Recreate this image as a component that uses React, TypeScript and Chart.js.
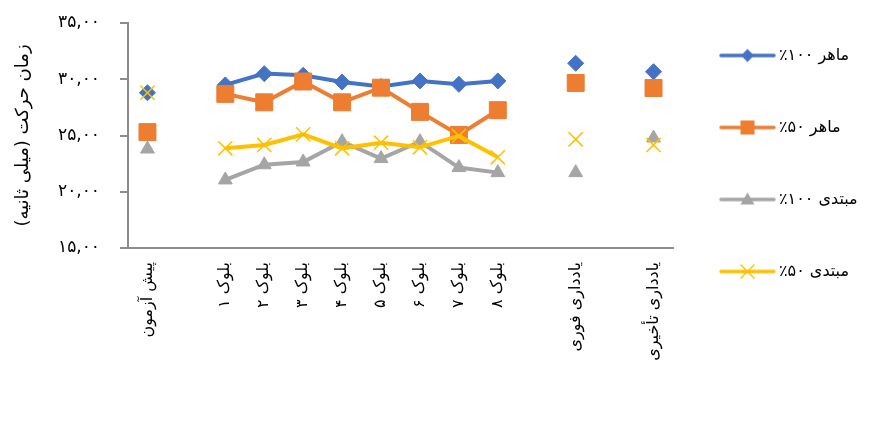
import React, { useEffect, useRef } from 'react';
import { Chart, registerables } from 'chart.js';

Chart.register(...registerables);

// ---------- data ----------
const categories = [
  'پیش آزمون', '',
  'بلوک ۱', 'بلوک ۲', 'بلوک ۳', 'بلوک ۴', 'بلوک ۵', 'بلوک ۶', 'بلوک ۷', 'بلوک ۸',
  '', 'یادداری فوری', '', 'یادداری تأخیری',
];

const seriesNames = ['ماهر ۱۰۰٪', 'ماهر ۵۰٪', 'مبتدی ۱۰۰٪', 'مبتدی ۵۰٪'];

const expert100 = [28.8, null, 29.5, 30.5, 30.35, 29.75, 29.35, 29.85, 29.55, 29.85, null, 31.42, null, 30.67];
const expert50 = [25.3, null, 28.7, 27.95, 29.8, 27.95, 29.25, 27.1, 25.05, 27.25, null, 29.67, null, 29.22];
const novice100 = [23.8, null, 21.05, 22.4, 22.65, 24.45, 22.95, 24.45, 22.15, 21.7, null, 21.7, null, 24.78];
const novice50 = [28.8, null, 23.86, 24.16, 25.1, 23.86, 24.36, 23.95, 24.96, 23.06, null, 24.66, null, 24.16];

const yTickValues = [15, 20, 25, 30, 35];
const yTickLabels = ['۱۵,۰۰', '۲۰,۰۰', '۲۵,۰۰', '۳۰,۰۰', '۳۵,۰۰'];
const yTitle = 'زمان حرکت (میلی ثانیه)';

// ---------- styling ----------
const FONT = '"DejaVu Sans", sans-serif';
const COLORS = ['#4472C4', '#ED7D31', '#A5A5A5', '#FFC000'];
const STYLES = ['rectRot', 'rect', 'triangle', 'crossRot'];
const RADII = [8, 12, 8, 10];
const AXIS = '#8c8c8c';

const W = 879;
const H = 437;
const PLOT_LEFT = 128;
const PLOT_RIGHT = 673;
const PLOT_TOP = 23;
const PLOT_BOTTOM = 248;
const LEG_FONT = 16;
const LEG_PAD = 72 - LEG_FONT;
const LEG_BOX = 42;
const LEG_FIRST_Y = 55.5;
const PAD_TOP = LEG_FIRST_Y - LEG_FONT / 2 - LEG_PAD;
const X_AXIS_H = H - PLOT_BOTTOM;
const TICK_MARK = 8;
const TICK_GAP = 20;

function makeIcon(color: string, style: string): HTMLCanvasElement {
  const c = document.createElement('canvas');
  c.width = 62;
  c.height = 20;
  const g = c.getContext('2d')!;
  g.strokeStyle = color;
  g.fillStyle = color;
  g.lineWidth = 3.5;
  g.lineCap = 'round';
  g.beginPath();
  g.moveTo(2, 10);
  g.lineTo(55, 10);
  g.stroke();
  const cx = 28.5;
  const cy = 10;
  g.beginPath();
  if (style === 'rectRot') {
    g.moveTo(cx, cy - 6.5);
    g.lineTo(cx + 6.5, cy);
    g.lineTo(cx, cy + 6.5);
    g.lineTo(cx - 6.5, cy);
    g.closePath();
    g.fill();
  } else if (style === 'rect') {
    g.rect(cx - 7, cy - 7, 14, 14);
    g.fill();
  } else if (style === 'triangle') {
    g.moveTo(cx, cy - 7);
    g.lineTo(cx + 7, cy + 5);
    g.lineTo(cx - 7, cy + 5);
    g.closePath();
    g.fill();
  } else {
    g.lineWidth = 1.5;
    g.lineCap = 'butt';
    g.moveTo(cx - 7, cy - 7);
    g.lineTo(cx + 7, cy + 7);
    g.moveTo(cx + 7, cy - 7);
    g.lineTo(cx - 7, cy + 7);
    g.stroke();
  }
  return c;
}

function legendRightPadding(): number {
  const g = document.createElement('canvas').getContext('2d')!;
  g.font = `${LEG_FONT}px ${FONT}`;
  const tw = Math.max(...seriesNames.map((t) => g.measureText(t).width));
  const legendW = LEG_PAD + LEG_BOX + LEG_FONT / 2 + tw + 10;
  return W - PLOT_RIGHT - legendW;
}

export default function App() {
  const ref = useRef<HTMLCanvasElement | null>(null);

  useEffect(() => {
    if (!ref.current) return;
    const values = [expert100, expert50, novice100, novice50];
    const icons = COLORS.map((c, i) => makeIcon(c, STYLES[i]));
    const chart = new Chart(ref.current, {
      type: 'line',
      data: {
        labels: categories,
        datasets: values.map((v, i) => ({
          label: seriesNames[i],
          data: v,
          borderColor: COLORS[i],
          backgroundColor: COLORS[i],
          borderWidth: 4,
          pointStyle: STYLES[i] as any,
          pointRadius: RADII[i],
          pointBorderWidth: i === 3 ? 1.5 : 1,
          pointBorderColor: COLORS[i],
          pointBackgroundColor: COLORS[i],
          spanGaps: false,
          tension: 0,
          order: 4 - i,
        })),
      },
      options: {
        animation: false,
        responsive: true,
        maintainAspectRatio: false,
        events: [],
        layout: {
          padding: { top: PAD_TOP, bottom: 0, left: 0, right: legendRightPadding() },
        },
        plugins: {
          tooltip: { enabled: false },
          title: {
            display: true,
            text: '',
            font: { size: 10, lineHeight: 1 },
            padding: { top: PLOT_TOP - PAD_TOP - 10, bottom: 0 },
          },
          legend: {
            display: true,
            position: 'right',
            align: 'start',
            textDirection: 'rtl',
            labels: {
              usePointStyle: true,
              pointStyleWidth: LEG_BOX,
              padding: LEG_PAD,
              color: '#000',
              font: { size: LEG_FONT, family: FONT },
              generateLabels: (ch: any) =>
                ch.data.datasets.map((ds: any, i: number) => ({
                  text: ds.label,
                  pointStyle: icons[i],
                  fillStyle: COLORS[i],
                  strokeStyle: COLORS[i],
                  lineWidth: 0,
                  hidden: false,
                  datasetIndex: i,
                  fontColor: '#000',
                })),
            },
          },
        },
        scales: {
          x: {
            type: 'category',
            offset: true,
            grid: { display: false, drawTicks: false },
            border: { display: true, color: AXIS, width: 2 },
            ticks: {
              autoSkip: false,
              maxRotation: 90,
              minRotation: 90,
              padding: 14,
              color: '#000',
              font: { size: 16, family: FONT },
            },
            afterFit: (s: any) => {
              s.height = X_AXIS_H;
            },
          },
          y: {
            min: 15,
            max: 35,
            afterBuildTicks: (s: any) => {
              s.ticks = yTickValues.map((v) => ({ value: v }));
            },
            grid: {
              display: true,
              drawOnChartArea: false,
              drawTicks: true,
              tickLength: TICK_MARK + TICK_GAP,
              tickBorderDash: [0, TICK_GAP, TICK_MARK + 4, 0],
              tickBorderDashOffset: 0,
              color: AXIS,
              lineWidth: 2,
            },
            border: { display: true, color: AXIS, width: 2 },
            ticks: {
              padding: 0,
              color: '#000',
              font: { size: 17, family: FONT },
              callback: (v: any) => {
                const k = yTickValues.indexOf(Number(v));
                return k >= 0 ? yTickLabels[k] : '';
              },
            },
            title: {
              display: true,
              text: yTitle,
              color: '#000',
              font: { size: 18, family: FONT },
              padding: { top: 13, bottom: 0 },
            },
            afterFit: (s: any) => {
              s.width = PLOT_LEFT;
            },
          },
        },
      },
    } as any);
    return () => chart.destroy();
  }, []);

  return (
    <div style={{ position: 'absolute', left: 0, top: 0, width: W, height: H, background: '#fff' }}>
      <canvas ref={ref} dir="rtl" />
    </div>
  );
}
